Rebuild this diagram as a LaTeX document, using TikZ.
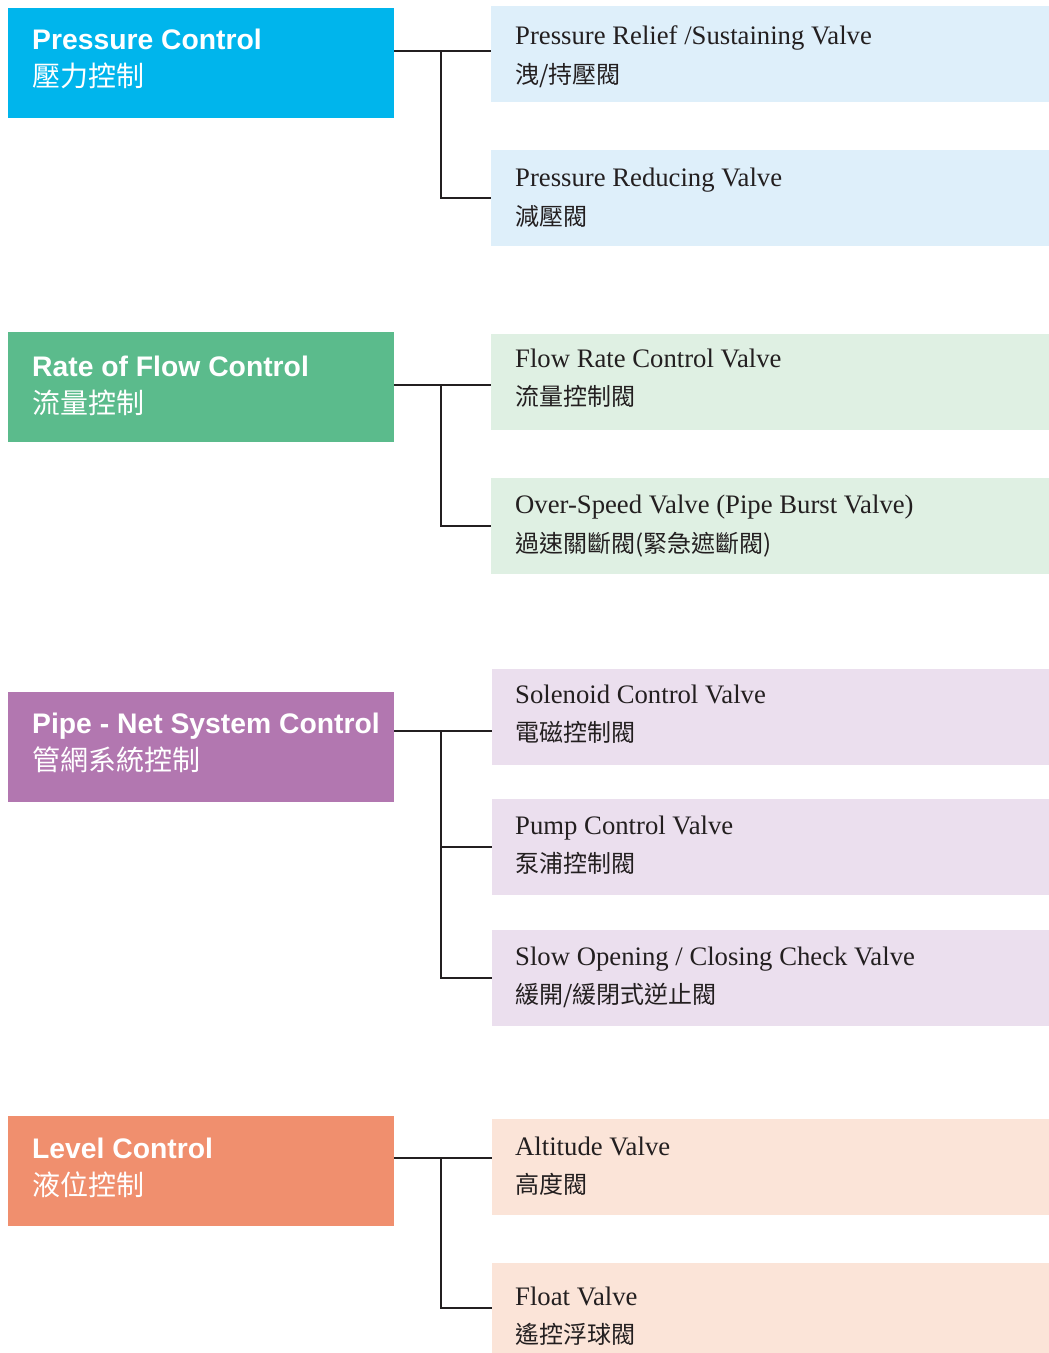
\documentclass[tikz,border=0pt]{standalone}
\usepackage{fontspec}
\setmainfont{Liberation Serif}
\newfontfamily\headfont{Liberation Sans}
\newfontfamily\cjk{Noto Sans CJK TC}
\usetikzlibrary{positioning}
\definecolor{ink}{RGB}{35,31,32}
\definecolor{pcblue}{RGB}{0,181,236}
\definecolor{rfgreen}{RGB}{91,187,140}
\definecolor{pnpurple}{RGB}{178,119,176}
\definecolor{lcorange}{RGB}{240,143,110}
\definecolor{pcpale}{RGB}{222,239,250}
\definecolor{rfpale}{RGB}{223,240,227}
\definecolor{pnpale}{RGB}{235,223,238}
\definecolor{lcpale}{RGB}{251,228,216}
\tikzset{
group/.style={ % coloured boxes on the left
rectangle, anchor=north west, inner sep=0pt,
minimum width=386pt, minimum height=110pt},
valve/.style={ % pale boxes on the right
rectangle, anchor=north west, inner sep=0pt,
minimum width=558pt, minimum height=96pt},
grouptext/.style={anchor=base west, inner sep=0pt, text=white,
font=\headfont\bfseries\fontsize{28.3}{28}\selectfont},
groupzh/.style={anchor=base west, inner sep=0pt, text=white,
font=\cjk\fontsize{28}{28}\selectfont},
valvetext/.style={anchor=base west, inner sep=0pt, text=ink,
font=\fontsize{26.7}{26}\selectfont},
valvezh/.style={anchor=base west, inner sep=0pt, text=ink,
font=\cjk\fontsize{24}{24}\selectfont},
link/.style={draw=ink, line width=1.6pt} % tree lines
}

\begin{document}
\begin{tikzpicture}[x=1pt, y=-1pt]
\useasboundingbox (0,0) rectangle (1049,1353);

% left column
\node[group, fill=pcblue] (pc) at (8,8) {};
\node[grouptext] (pcT) at (32,49) {Pressure Control};
\node[groupzh] (pcZ) at (32,86) {壓力控制};
\node[group, fill=rfgreen] (rf) at (8,332) {};
\node[grouptext] (rfT) at (32,376) {Rate of Flow Control};
\node[groupzh] (rfZ) at (32,413) {流量控制};
\node[group, fill=pnpurple] (pn) at (8,692) {};
\node[grouptext] (pnT) at (32,733) {Pipe - Net System Control};
\node[groupzh] (pnZ) at (32,770) {管網系統控制};
\node[group, fill=lcorange] (lc) at (8,1116) {};
\node[grouptext] (lcT) at (32,1158) {Level Control};
\node[groupzh] (lcZ) at (32,1195) {液位控制};

% right column
\node[valve, fill=pcpale] (v1) at (491,6) {};
\node[valvetext] (v1T) at (515,44) {Pressure Relief /Sustaining Valve};
\node[valvezh] (v1Z) at (515,83) {洩/持壓閥};
\node[valve, fill=pcpale] (v2) at (491,150) {};
\node[valvetext] (v2T) at (515,186) {Pressure Reducing Valve};
\node[valvezh] (v2Z) at (515,225) {減壓閥};
\node[valve, fill=rfpale] (v3) at (491,334) {};
\node[valvetext] (v3T) at (515,367) {Flow Rate Control Valve};
\node[valvezh] (v3Z) at (515,405) {流量控制閥};
\node[valve, fill=rfpale] (v4) at (491,478) {};
\node[valvetext] (v4T) at (515,513) {Over-Speed Valve (Pipe Burst Valve)};
\node[valvezh] (v4Z) at (515,552) {過速關斷閥(緊急遮斷閥)};
\node[valve, fill=pnpale] (v5) at (492,669) {};
\node[valvetext] (v5T) at (515,703) {Solenoid Control Valve};
\node[valvezh] (v5Z) at (515,741) {電磁控制閥};
\node[valve, fill=pnpale] (v6) at (492,799) {};
\node[valvetext] (v6T) at (515,834) {Pump Control Valve};
\node[valvezh] (v6Z) at (515,872) {泵浦控制閥};
\node[valve, fill=pnpale] (v7) at (492,930) {};
\node[valvetext] (v7T) at (515,965) {Slow Opening / Closing Check Valve};
\node[valvezh] (v7Z) at (515,1003) {緩開/緩閉式逆止閥};
\node[valve, fill=lcpale] (v8) at (492,1119) {};
\node[valvetext] (v8T) at (515,1155) {Altitude Valve};
\node[valvezh] (v8Z) at (515,1193) {高度閥};
\node[valve, fill=lcpale, minimum height=90pt] (v9) at (492,1263) {};
\node[valvetext] (v9T) at (515,1305) {Float Valve};
\node[valvezh] (v9Z) at (515,1343) {遙控浮球閥};

% tree lines
\coordinate (j1) at (441,51);
\coordinate (j2) at (441,385);
\coordinate (j3) at (441,731);
\coordinate (j4) at (441,1158);
\draw[link] (pc.east |- j1) -- (v1.west |- j1);
\draw[link] (j1) |- (v2.west);
\draw[link] (rf.east |- j2) -- (v3.west |- j2);
\draw[link] (j2) |- (v4.west);
\draw[link] (pn.east |- j3) -- (v5.west |- j3);
\draw[link] (j3) |- (v6.west);
\draw[link] (j3) |- (v7.west);
\draw[link] (lc.east |- j4) -- (v8.west |- j4);
\draw[link] (j4) |- (v9.west);
\end{tikzpicture}
\end{document}
